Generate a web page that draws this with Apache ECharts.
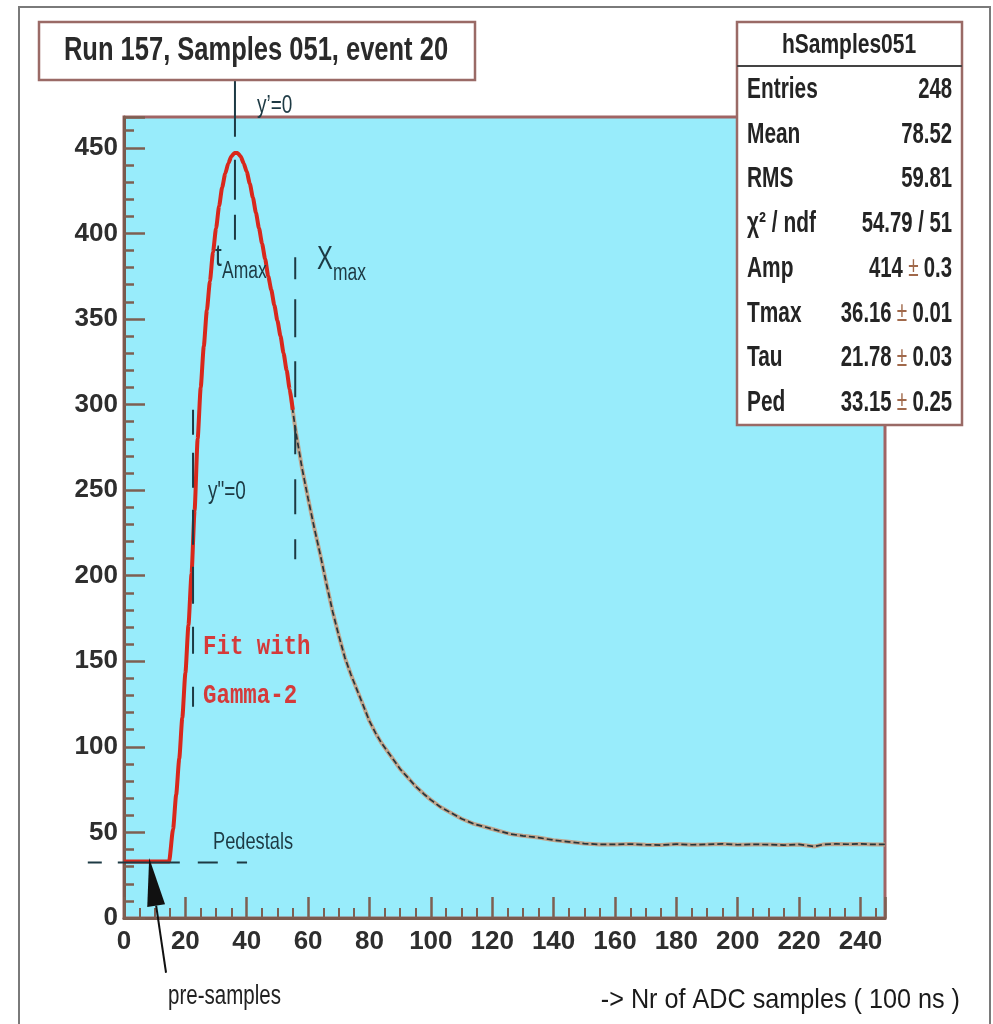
<!DOCTYPE html>
<html><head><meta charset="utf-8">
<script src="https://cdn.jsdelivr.net/npm/echarts@6.0.0/dist/echarts.min.js"></script>
<style>html,body{margin:0;padding:0;background:#fff}#c{width:993px;height:1024px}</style>
</head><body><div id="c"></div>
<script>
// ---- data ----
const fitX = [0, 4, 8, 12, 14.7, 16, 17, 18, 19, 20, 21, 22, 23, 24, 25, 26, 27, 28, 29, 30, 31, 32, 33, 34, 35, 36, 37, 38, 39, 40, 41, 42, 43, 44, 45, 46, 47, 48, 49, 50, 51, 52, 53, 54, 55];
const fitY = [33, 33, 33, 33, 33, 52, 72, 93, 117, 143, 171, 201, 238, 280, 310, 334, 355, 372, 389, 403, 416, 427, 435, 441, 445, 447, 447, 445, 441, 436, 429, 421, 412, 403, 394, 385, 375, 367, 358, 349, 340, 330, 320, 309, 297];
const dataX = [54, 56, 58, 60, 62, 64, 66, 68, 70, 72, 74, 76, 78, 80, 82, 84, 86, 88, 90, 92, 95, 98, 100, 103, 106, 110, 114, 118, 122, 126, 130, 135, 140, 145, 150, 155, 160, 165, 170, 175, 180, 185, 190, 195, 200, 205, 210, 215, 220, 225, 228, 232, 236, 240, 244, 248];
const dataY = [309, 284, 263, 245, 228, 212, 195, 179, 165, 152, 142, 133, 124, 115, 108, 102, 97, 92, 87, 83, 77, 72, 69, 65, 62, 58, 55, 53, 51, 49, 48, 47, 45.5, 44.5, 43.5, 43, 43, 43.2, 42.8, 42.6, 43.2, 42.8, 43, 43.3, 42.8, 43, 42.9, 42.6, 43, 41.8, 43, 43.3, 43.1, 43.3, 43, 43];
const xRange = [0, 248];
const xStep = 20;
const yRange = [0, 468];
const yStep = 50;
const titleText = 'Run 157, Samples 051, event 20';
const statsTitle = 'hSamples051';
const statLabels = ['Entries', 'Mean', 'RMS', 'χ² / ndf', 'Amp', 'Tmax', 'Tau', 'Ped'];
const statValues = ['248', '78.52', '59.81', '54.79 / 51', '414', '36.16', '21.78', '33.15'];
const statErrors = [null, null, null, null, '0.3', '0.01', '0.03', '0.25'];
const xAxisTitle = '-> Nr of ADC samples ( 100 ns )';
// annotation anchors in data coordinates
const tAmax = 36.16, xMaxT = 55.8, inflT = 22.5, pedLevel = 32.5;

const chart = echarts.init(document.getElementById('c'));
const labelFont = '"Liberation Sans Narrow", "Liberation Sans", sans-serif';
const tickColor = '#7e5f52';
function pairs(xs, ys){ return xs.map((x,i)=>[x, ys[i]]); }

chart.setOption({
  animation: false,
  backgroundColor: '#ffffff',
  grid: {left: 124, right: 108, top: 117, bottom: 106, show: true, backgroundColor: '#98ecfb', borderColor: '#a06464', borderWidth: 3, z: 0},
  xAxis: {
    type: 'value', min: xRange[0], max: xRange[1], interval: xStep,
    axisLine: {show: true, onZero: false, lineStyle: {color: '#7a5a4e', width: 3}},
    axisTick: {show: true, inside: true, length: 21, lineStyle: {color: tickColor, width: 2.5}},
    minorTick: {show: true, splitNumber: 4, length: 10, lineStyle: {color: tickColor, width: 2}},
    splitLine: {show: false},
    axisLabel: {showMaxLabel: false, margin: 11, fontFamily: labelFont, fontWeight: 'bold', fontSize: 26, color: '#2e2e2e'}
  },
  yAxis: {
    type: 'value', min: yRange[0], max: yRange[1], interval: yStep,
    axisLine: {show: true, onZero: false, lineStyle: {color: '#7a5a4e', width: 3}},
    axisTick: {show: true, inside: true, length: 21, lineStyle: {color: tickColor, width: 2.5}},
    minorTick: {show: true, splitNumber: 5, length: 10, lineStyle: {color: tickColor, width: 2.5}},
    splitLine: {show: false},
    axisLabel: {showMaxLabel: false, margin: 6, fontFamily: labelFont, fontWeight: 'bold', fontSize: 26, color: '#2e2e2e'}
  },
  series: [
    {type: 'line', data: pairs(dataX, dataY), showSymbol: false, lineStyle: {color: '#bfa48c', width: 4}, z: 3},
    {type: 'line', data: pairs(dataX, dataY), showSymbol: false, lineStyle: {color: '#26343a', width: 1.7, type: [6, 3]}, z: 4},
    {type: 'line', data: pairs(fitX, fitY), showSymbol: false, smooth: 0.2, smoothMonotone: 'x', lineStyle: {color: '#d8281c', width: 4}, z: 5}
  ]
});

function px(x, y){ return chart.convertToPixel({gridIndex: 0}, [x, y]); }
const G = [];
const annColor = '#1d3a44';
function txt(text, x, y, size, opts){
  opts = opts || {};
  return {type: 'text', x: x, y: y, scaleX: opts.sx || 0.76, z: 20,
    style: {text: text, font: (opts.weight || 'normal') + ' ' + size + 'px ' + (opts.family || '"Liberation Sans"'),
      fill: opts.color || '#242424', textAlign: opts.align || 'left', align: opts.align || 'left',
      textVerticalAlign: 'middle', verticalAlign: 'middle', rich: opts.rich}};
}
function dline(p0, p1, dash, color, w){
  return {type: 'line', z: 15, shape: {x1: p0[0], y1: p0[1], x2: p1[0], y2: p1[1]},
    style: {stroke: color || annColor, lineWidth: w || 2, lineDash: dash}};
}
// outer frame
G.push({type: 'rect', z: 1, shape: {x: 19, y: 7, width: 971, height: 1030}, style: {fill: null, stroke: '#7a7a7a', lineWidth: 2}});
// title box
G.push({type: 'rect', z: 18, shape: {x: 39, y: 22, width: 436, height: 58}, style: {fill: '#ffffff', stroke: '#9a6a66', lineWidth: 2.5}});
G.push(txt(titleText, 256, 51, 34, {align: 'center', sx: 0.75, weight: 'bold', color: '#2a2a2a'}));
// stats box
G.push({type: 'rect', z: 18, shape: {x: 737, y: 22, width: 225, height: 403}, style: {fill: '#ffffff', stroke: '#9a6a66', lineWidth: 2.5}});
G.push({type: 'line', z: 19, shape: {x1: 737, y1: 66, x2: 962, y2: 66}, style: {stroke: '#444', lineWidth: 2}});
G.push(txt(statsTitle, 849, 45, 28, {align: 'center', sx: 0.75, weight: 'bold'}));
statLabels.forEach((lab, i) => {
  const y = 90 + i * 44.7;
  G.push(txt(lab, 747, y, 29, {sx: 0.72, weight: 'bold'}));
  const val = statErrors[i] ? '{v|' + statValues[i] + '}{p| ± }{v|' + statErrors[i] + '}' : '{v|' + statValues[i] + '}';
  G.push(txt(val, 952, y, 29, {align: 'right', sx: 0.7, weight: 'bold', rich: {
    v: {font: 'bold 29px "Liberation Sans"', fill: '#242424'},
    p: {font: '27px "Liberation Sans"', fill: '#a0684a'}}}));
});
// vertical dashed annotation lines
G.push(dline(px(tAmax, 491), px(tAmax, 396), [59, 23, 40, 15, 25, 300]));
G.push(dline(px(xMaxT, 386), px(xMaxT, 209), [22, 20, 38, 24, 36, 29, 28, 25, 35, 25, 20, 300]));
G.push(dline(px(inflT, 297), px(inflT, 118.6), [25, 18, 35, 22, 35, 22, 37, 23, 27, 33, 20, 300]));
G.push(dline(px(-11.8, pedLevel), px(40.1, pedLevel), [14, 16, 62, 18, 20, 19, 11, 300]));
// arrow to pre-samples
(function(){
  const P = px(8.2, 35), T = px(13.7, -32);
  const dx = P[0] - T[0], dy = P[1] - T[1], L = Math.hypot(dx, dy);
  const ux = dx / L, uy = dy / L, nx = -uy, ny = ux;
  const bx = P[0] - ux * 48, by = P[1] - uy * 48;
  G.push({type: 'line', z: 16, shape: {x1: T[0], y1: T[1], x2: bx, y2: by}, style: {stroke: '#111', lineWidth: 2}});
  G.push({type: 'polygon', z: 16, shape: {points: [[P[0], P[1]], [bx + nx * 9, by + ny * 9], [bx - nx * 9, by - ny * 9]]}, style: {fill: '#111'}});
})();
// annotation texts
G.push(txt('y’=0', 257, 106, 25, {color: annColor}));
G.push(txt('t', 215, 257, 32, {color: annColor}));
G.push(txt('Amax', 222, 272, 23, {color: annColor}));
G.push(txt('X', 317, 260, 34, {color: annColor, sx: 0.7}));
G.push(txt('max', 333, 274, 23, {color: annColor}));
G.push(txt('y"=0', 208, 492, 25, {color: annColor}));
G.push(txt('Fit with', 203, 647, 28, {color: '#d53a3a', weight: 'bold', family: '"Liberation Mono"', sx: 0.8}));
G.push(txt('Gamma-2', 203, 696, 28, {color: '#d53a3a', weight: 'bold', family: '"Liberation Mono"', sx: 0.8}));
G.push(txt('Pedestals', 213, 842, 24, {color: annColor}));
G.push(txt('pre-samples', 168, 997, 27, {color: '#222'}));
G.push(txt(xAxisTitle, 960, 1000, 28, {align: 'right', sx: 0.9, color: '#1a1a1a'}));

chart.setOption({graphic: G});
</script>
</body></html>
